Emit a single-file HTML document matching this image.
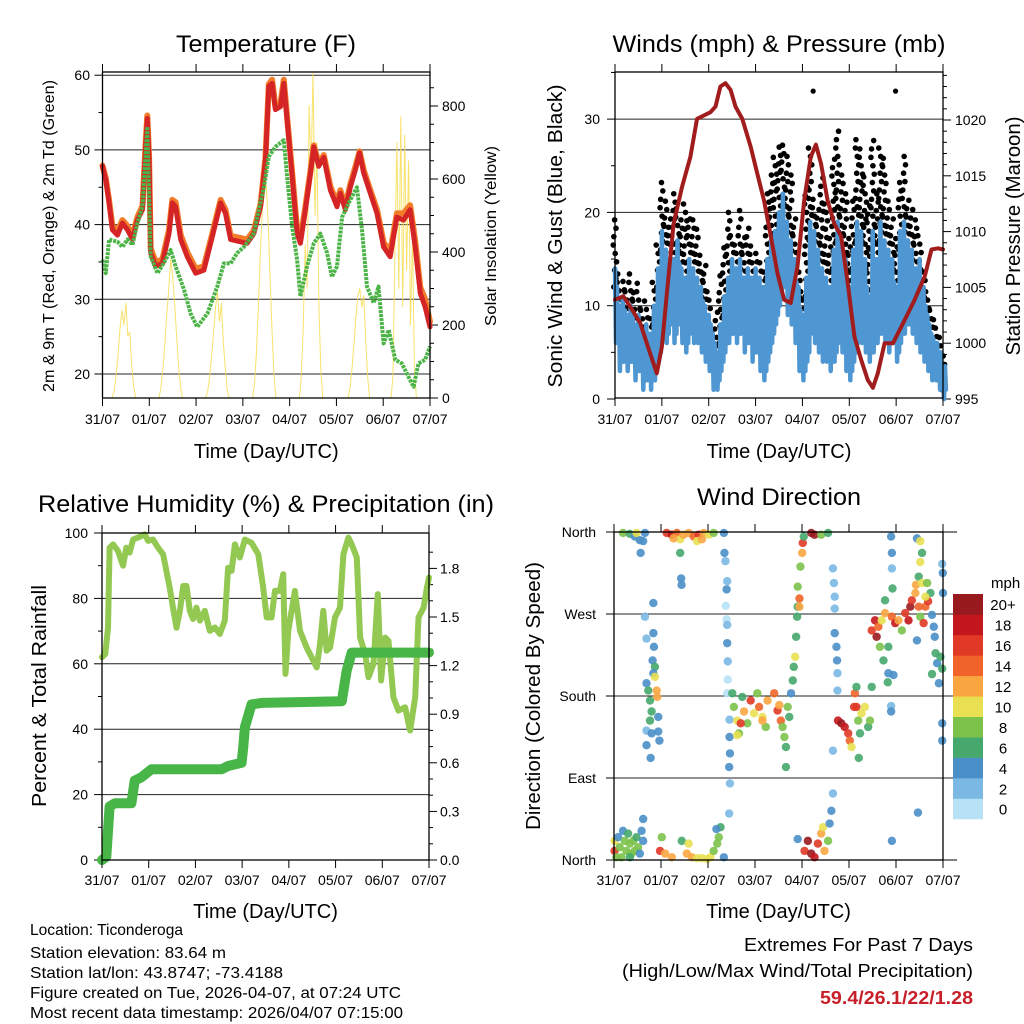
<!DOCTYPE html>
<html><head><meta charset="utf-8"><style>
html,body{margin:0;padding:0;background:#fff}
svg{display:block;font-family:"Liberation Sans Narrow","Liberation Sans",sans-serif}
</style></head><body>
<svg id="s" width="1024" height="1024" viewBox="0 0 1024 1024" xmlns="http://www.w3.org/2000/svg">
<rect width="1024" height="1024" fill="#fff"/>
<g id="g1"></g>
<g id="g2"></g>
<g id="g3"></g>
<g id="g4"></g>
<g font-size="16" fill="#000">
<text x="30" y="935" textLength="153" lengthAdjust="spacingAndGlyphs">Location: Ticonderoga</text>
<text x="30" y="958" textLength="196" lengthAdjust="spacingAndGlyphs">Station elevation: 83.64 m</text>
<text x="30" y="978" textLength="253" lengthAdjust="spacingAndGlyphs">Station lat/lon: 43.8747; -73.4188</text>
<text x="30" y="998" textLength="371" lengthAdjust="spacingAndGlyphs">Figure created on Tue, 2026-04-07, at 07:24 UTC</text>
<text x="30" y="1018" textLength="373" lengthAdjust="spacingAndGlyphs">Most recent data timestamp: 2026/04/07 07:15:00</text>
</g>
<g font-size="18" text-anchor="end">
<text x="973" y="951" textLength="229" lengthAdjust="spacingAndGlyphs">Extremes For Past 7 Days</text>
<text x="973" y="977" textLength="351" lengthAdjust="spacingAndGlyphs">(High/Low/Max Wind/Total Precipitation)</text>
<text x="973" y="1004" fill="#c8202a" font-weight="bold" textLength="153" lengthAdjust="spacingAndGlyphs">59.4/26.1/22/1.28</text>
</g>
</svg>
<script>
// ---------- data (hours since 31/07 00 UTC) ----------
const dayLabels=["31/07","01/07","02/07","03/07","04/07","05/07","06/07","07/07"];
const tempT=[0,1.7,3.4,5.1,7.7,10.2,12.8,15.4,17.9,20.5,22.2,23,23.9,24.7,27.3,30.7,34.1,35.8,37.5,40.1,43.5,47.8,52,56.3,60.6,63.1,65.7,70.8,74.2,77.6,81.1,83.6,85.3,87,88.7,91.3,93,94.7,97.3,99.8,101.5,104.1,106.7,108.4,110.9,113.5,116.9,120.3,122,124.6,127.1,129.7,131.9,134,137.4,140.8,144.2,147.6,151,154.4,157.8,160.4,163,165.5,168];
const tempRed=[47.8,46,42.9,39.3,38.6,40.2,39.3,38,40.6,42,50.9,54.2,48.7,36.2,34.4,34.8,38.8,42.9,42.4,38,35.7,33.5,33.9,38.4,42.9,41.5,38,37.7,37.5,38.8,42.4,48.7,58.5,58.9,55.4,55.8,58.9,54,46.4,38.8,37.5,42,46.9,50.4,47.8,49,44.6,42.4,44.2,42,45,47.3,49.6,46.9,44.2,41.5,37,35.7,41,40.6,42,37,30.8,29,26.3];
const tempOrange=[47.9,46.2,43.2,39.8,39.2,40.6,39.8,38.5,41,42.5,51.3,54.6,49,36.8,35,35.3,39.3,43.3,43,38.6,36.3,34.1,34.4,38.8,43.3,42,38.5,38.2,38,39.2,42.8,49,58.8,59.4,55.8,56.2,59.4,54.4,46.9,39.3,38,42.4,47.2,50.6,48.2,49.3,45.1,42.9,44.6,42.5,45.4,47.7,49.8,47.3,44.6,42,37.6,36.3,41.5,41.5,42.6,37.8,31.6,30,27];
const dewT=[0,1.7,3.4,7.7,10.2,12.8,15.4,17.9,20.5,23,24.7,28.2,32.4,35,37.5,41.8,45.2,48.6,53.8,58.9,62.3,65.7,69.1,72.5,77.6,82.8,85.3,88.7,93,94.7,97.3,99.8,101.5,104.9,108.4,111.8,115.2,117.7,120.3,122.9,126.3,130.5,133.1,135.7,139.1,141.6,144.2,146.8,150.2,153.6,157,159.6,162.1,165.5,168];
const dewG=[35.3,33.5,38,37.7,37,38,37.3,40.2,42.4,53.1,35.7,33.5,35.3,36.6,34.4,31.3,28.1,26.3,28.1,31.7,34.8,34.8,36.2,37,38.8,45,49.1,50.4,51.3,46.4,39.7,35.3,30.4,34.4,37.5,38.8,36.2,33,34.4,41,42.9,45,39.3,31.7,29.5,31.7,24.1,25.9,21.9,21.4,19.6,18.3,21.4,21.9,23.7];
const solarDays=[0,1,2,3,4,5,6];
const solarHours=[[5,6,7,8,9,10,11,12,13,14,15,16,17],[5,6,7,8,9,10,11,12,13,14,15,16,17],[5,6,7,8,9,10,11,12,13,14,15,16,17],[5,6,7,8,9,10,11,12,13,14,15,16,17],[5,6,7,8,9,10,11,12,13,14,15,16,17],[6,7,8,9,10,11,12,13,14,15,16,17],[4,5,6,7,8,9,10,11,12,13,14,15,16,17]];
const solarVals=[[0,20,60,120,190,240,200,260,170,180,90,30,0],[0,30,80,150,230,300,380,330,260,170,90,30,0],[0,20,60,120,180,250,290,210,260,150,80,20,0],[0,40,130,260,400,520,600,580,480,330,180,60,0],[0,60,200,420,300,800,620,890,500,700,250,80,0],[0,30,80,150,220,280,300,250,280,160,60,0],[0,60,400,700,300,770,250,720,350,650,200,450,80,0]];

const windT=[0,2,4,6,8,10,12,14,16,18,20,22,24,26,28,30,32,34,36,38,40,42,44,46,48,50,52,54,56,58,60,62,64,66,68,70,72,74,76,78,80,82,84,86,88,90,92,94,96,98,100,102,104,106,108,110,112,114,116,118,120,122,124,126,128,130,132,134,136,138,140,142,144,146,148,150,152,154,156,158,160,162,164,166,168];
const windHi=[14,10,11,9,10,8,9,7,8,7,10,14,18,16,15,15,17,14,13,15,14,13,12,10,9,7,5,8,11,13,15,14,15,13,14,13,14,13,12,15,17,18,20,22,19,17,15,12,9,13,19,18,16,14,13,12,16,19,17,15,12,16,19,18,15,11,18,15,19,17,16,15,12,18,19,17,16,14,15,12,9,7,6,5,3];
const windLo=[6,3,4,3,4,2,3,1,2,1,2,4,7,6,8,6,8,6,5,7,6,6,5,4,3,1,1,3,5,6,7,6,7,5,6,4,5,3,2,4,6,8,10,12,9,8,6,3,2,4,7,6,5,4,4,3,4,6,5,3,2,4,6,6,5,4,5,6,7,6,5,6,4,6,7,8,7,6,5,4,3,2,2,1,0];
const gustMax=[20,14,13,12,14,12,13,10,11,9,13,17,24,22,20,22,21,20,21,20,20,19,16,15,12,7,10,14,17,20,18,17,21,18,19,17,16,15,14,22,24,26,27,28,26,24,20,14,12,23,27,22,21,24,21,18,26,29,24,22,18,22,28,27,24,21,28,22,27,26,22,20,18,24,26,22,21,20,18,14,12,10,9,7,5];
const gustOutT=[101.5,143.7];
const gustOutV=[33,33];
const presT=[0,4.3,7.7,12.9,18,21.4,24,26.6,30,34.3,38.6,42,45.5,48.9,51.5,54,56.6,59.2,61.7,65.2,69.5,72.9,76.3,79.8,83.2,86.6,90,93.5,96.9,100.3,102.9,105.5,108.9,112.3,115.8,119.2,122.6,126.1,129.5,132.1,134.6,138.1,142.4,146.7,150.1,153.5,158.7,162.1,165.5,168];
const presV=[1003.9,1004.2,1003.3,1001.8,999.1,997.3,999.7,1004.5,1010.7,1014,1016.7,1020.1,1020.4,1020.7,1021.2,1023,1023.3,1022.7,1021.2,1020.1,1017.6,1015.2,1012.8,1009.6,1006.3,1003.9,1003.6,1006.9,1012.8,1016.7,1017.8,1016.1,1012.8,1010.7,1009.6,1005.4,1000.6,998.5,996.7,996,997.3,1000,1000,1001.5,1002.7,1003.9,1006,1008.4,1008.5,1008.4];

const rhT=[0,1.7,3.1,3.9,5.7,8.2,10.8,12.5,14.2,16,18.5,22,23.7,26.2,28.8,31.4,33.1,34.8,36.5,38.3,40,41.7,43.4,45.1,46.8,48.5,50.3,52.8,55.4,58,60.5,63.1,64.8,66.6,68.3,70.8,73.4,76.8,80.3,82.8,84.6,87.1,88.9,91.4,93.1,94.3,95.7,99.1,101.7,105.1,107.7,110.3,112,113.7,115.4,117.2,119.7,122.3,124,126.6,128.3,130.9,132.6,135.2,136.9,139.5,141.7,143.4,145.5,147.2,149.7,152.3,155.7,158.3,160.9,162.6,165.2,166.9,168];
const rhV=[62,63,71,95.5,96.5,94.5,90,95.5,94,98,98.6,99.6,97.6,98,95.5,93.5,88.4,83.3,77.2,71,76.2,83.8,83.8,76.2,73.7,77.2,73.2,76.2,70.1,71.1,69.1,73.2,89.4,88.4,96.5,92.5,98,97,93.5,83.3,74.2,74.2,82.3,82.3,87.4,56.9,70.1,82.3,70.1,65,62,58.9,66,76.2,64,65,74.2,77.2,93.5,98.6,96.5,92.5,68,63,55.9,60,81.3,54.9,68,67,49.8,45.7,46.7,39.6,49.8,74.2,77.2,83.3,86.4];
const rainT=[0,2.2,3.9,6.5,15.1,16.8,20.2,25.4,61.4,64.8,71.7,72.6,73.4,76.8,82,123.2,125.7,128.3,168];
const rainV=[0,0.02,0.33,0.35,0.35,0.49,0.51,0.56,0.56,0.58,0.6,0.7,0.82,0.96,0.97,0.98,1.17,1.28,1.28];

// wind direction observations: [hour, degrees, mph]
const dirObs=[
[4.6,359,8],[8.1,358,6],[10.6,355,4],[13.2,351,4],[14.9,350,4],[13.6,337,4],[15.8,359,4],[11.5,359,10],[20.1,282,4],
[0.3,10,16],[0.3,21,10],[2.1,25,4],[2.9,14,8],[4.6,32,4],[5.5,21,8],[6.3,10,8],[7.2,29,6],[8.1,18,8],[8.9,7,8],[9.8,21,8],[10.6,10,8],[11.5,25,6],[12.3,14,8],[13.2,7,4],[14.1,32,4],[14.9,45,4],[14.9,21,4],[1.2,3,8],[3.8,3,8],[8.1,3,6],
[15.8,267,2],[16.6,243,2],[20.1,249,4],[20.4,234,4],[19.7,219,4],[20.9,212,6],[20.1,205,4],[20.9,201,10],[16.6,194,4],[17.5,186,6],[21.8,186,12],[22.1,179,12],[18.4,175,6],[19.2,163,6],[18.4,153,6],[22.6,157,4],[22.6,141,4],[16.6,142,2],[19.2,139,4],[16.6,126,4],[18.7,112,4],[23.2,131,4],
[26.9,359,16],[29.5,357,18],[32.1,359,14],[33.8,352,10],[35.5,357,12],[38.1,359,12],[40.7,355,14],[43.2,357,16],[45.8,359,12],[48.4,357,10],[50.9,359,8],[30.4,353,12],[42.4,350,10],[44.9,352,12],[33.8,337,6],[34.3,309,4],[34.5,302,4],
[23.5,10,16],[24.4,25,8],[26.1,7,12],[29.5,3,12],[34.6,21,6],[38.1,18,10],[37.2,7,12],[39.8,3,12],[42.4,2,10],[44.9,2,10],[47.5,1,10],[49.2,3,10],[50.9,10,8],[52.7,18,8],[53.5,25,8],[54.4,36,6],[52.3,34,4],[56.1,3,4],
[56.1,359,4],[56.4,337,4],[56.9,328,2],[57.8,306,2],[57.5,297,4],[57.1,279,1],[57.5,264,1],[57.8,258,2],[57.8,238,4],[58.1,218,2],[58.1,198,1],[57.8,183,1],[59,154,2],[59,135,4],[59.2,117,4],[58.8,102,4],[59.2,84,2],[58.8,51,2],
[60.4,183,6],[61.2,168,8],[62.9,153,10],[63.8,139,8],[65.5,179,6],[66.4,163,12],[68.1,150,8],[69.8,175,16],[71.5,161,10],[73.2,183,8],[74.1,168,14],[75.8,157,10],[77.5,146,8],[78.4,175,12],[81.8,183,14],[83.5,164,16],[84.4,170,12],[85.2,153,14],[86.1,146,8],[87,135,8],[87.8,124,6],[88.7,168,8],[89.5,157,6],[87.8,102,6],[64.7,150,16],[75.8,153,12],[62.9,137,10],
[90.4,183,4],[91.3,197,6],[91.8,212,6],[92.5,223,10],[93,245,6],[93.5,267,6],[93.8,278,6],[94.7,287,14],[94.7,278,12],[93.8,300,8],[95.2,322,8],[96.1,337,12],[96.4,348,16],[96.9,355,6],[100.7,359,20],[102.4,357,20],[105.8,357,8],[109.3,359,6],
[93.8,23,4],[97.3,10,16],[99,21,20],[100.7,7,20],[102.4,3,18],[104.1,18,16],[105.8,29,12],[106.7,36,10],[107.5,10,12],[109.3,21,8],[110.1,40,4],[111,54,4],[111.8,73,2],
[111.8,320,2],[112.3,304,2],[112.7,289,2],[112.7,276,2],[112.7,249,4],[113.6,234,4],[113.9,219,4],[114.1,205,2],[114.1,186,2],[111.8,120,2],
[114.4,153,18],[116.1,150,20],[117.8,146,18],[119.6,139,16],[120.4,131,14],[121.3,124,10],[123.8,168,16],[123,183,14],[124.7,153,8],[125.6,139,6],[126.4,161,10],[128.1,168,10],[129.8,146,6],[130.7,153,8],[131.6,190,6],[123.8,190,6],[125,112,6],[122.6,168,16],
[131.6,252,16],[133.3,263,18],[134.1,245,20],[135,256,14],[135.8,234,8],[136.7,263,10],[137.6,219,6],[138.4,271,12],[140.1,205,4],[141.9,267,14],[143.6,260,18],[145.3,263,12],[147,252,8],[148.7,271,16],[150.4,263,18],[151.3,278,20],[152.1,285,16],[153.9,293,12],[155.6,278,14],[156.4,267,8],[158.1,260,16],[159,278,14],[140.1,234,6],[142.7,203,4],[139.8,195,6],[138.4,285,6],
[141.5,355,4],[141.9,337,4],[141.9,320,2],[142.2,298,6],[141.5,169,2],[141.5,163,4],[141.9,21,4],[155.2,52,4],
[154.7,353,4],[156.4,350,10],[157.3,337,6],[156.4,327,10],[155.6,311,6],[154.2,302,12],[157.3,304,10],[159.9,304,8],[161.6,293,6],[160.4,284,16],[159,289,10],[162.4,269,4],[163.8,245,4],[164.2,227,6],[165,216,4],[166.7,223,6],[167.6,210,6],[165.9,194,4],[163.3,256,4],[167.6,325,2],[167.9,315,4],[168,293,4],[167.6,150,4],[167.6,131,4],[162.4,204,6],[154.7,241,4]
];
const speedLabels=["0","2","4","6","8","10","12","14","16","18","20+"];
const speedColors=["#b7e1f6","#7bb8e4","#4a8fc8","#46a86c","#7cc24a","#e8e052","#f9a641","#f06429","#e03926","#c4171d","#981a1e"];

// ---------- helpers ----------
const NS="http://www.w3.org/2000/svg";
function mk(tag,attrs,parent){const e=document.createElementNS(NS,tag);for(const k in attrs)e.setAttribute(k,attrs[k]);parent.appendChild(e);return e;}
function txt(parent,x,y,s,size,anchor,extra){const e=mk('text',Object.assign({x:x,y:y,'font-size':size,'text-anchor':anchor||'middle'},extra||{}),parent);e.textContent=s;return e;}

function panel(g,L,R,T,B){
  return {L,R,T,B,x:t=>L+t/168*(R-L)};
}
function frame(g,p,nm){
  const r=mk('rect',{x:p.L,y:p.T,width:p.R-p.L,height:p.B-p.T,fill:'none',stroke:'#000','stroke-width':1.3},g);
  
  
}
function xAxis(g,p,labY,titleY,nm){
  for(let d=0;d<=7;d++){
    const x=p.x(d*24);
    mk('line',{x1:x,y1:p.B,x2:x,y2:p.B+8,stroke:'#000','stroke-width':1},g);
    mk('line',{x1:x,y1:p.T,x2:x,y2:p.T-8,stroke:'#000','stroke-width':1},g);
    const t=txt(g,x,labY,dayLabels[d],14,'middle');
    
    
  }
  const tt=txt(g,(p.L+p.R)/2,titleY,'Time (Day/UTC)',20,'middle');
  
  
}
function poly(g,pts,attrs){return mk('polyline',Object.assign({points:pts.map(p=>p[0].toFixed(1)+','+p[1].toFixed(1)).join(' '),fill:'none','stroke-linejoin':'round','stroke-linecap':'round'},attrs),g);}

// ---------- Panel 1: Temperature ----------
(function(){
  const g=document.getElementById('g1');
  const p=panel(g,102.5,430,72,398);
  const yT=v=>374-(v-20)*7.47;
  const yS=v=>398-v*0.365;
  const t=txt(g,266,52,'Temperature (F)',24,'middle',{textLength:180,lengthAdjust:'spacingAndGlyphs'});
  
  
  for(let v=20;v<=60;v+=10){
    const l=mk('line',{x1:p.L,y1:yT(v),x2:p.R,y2:yT(v),stroke:'#222','stroke-width':1},g);
    
    
    const lb=txt(g,90,yT(v)+5,String(v),14,'end');
    
    
  }
  for(let v=20;v<=60;v+=5) mk('line',{x1:p.L,y1:yT(v),x2:p.L-(v%10?4:8),y2:yT(v),stroke:'#000'},g);
  for(let v=0;v<=850;v+=50) mk('line',{x1:p.R,y1:yS(v),x2:p.R+(v%200?4:8),y2:yS(v),stroke:'#000'},g);
  for(let v=0;v<=800;v+=200){
    const lb=txt(g,442,yS(v)+5,String(v),14,'start');
    
    
  }
  solarDays.forEach((d,i)=>{
    const pts=solarHours[i].map((h,j)=>[p.x(d*24+h),yS(solarVals[i][j])]);
    const e=poly(g,pts,{stroke:'#f7dd52','stroke-width':1,opacity:0.85});
    
    
  });
  const o=poly(g,tempT.map((tt,i)=>[p.x(tt),yT(tempOrange[i])]),{stroke:'#f37c2a','stroke-width':6});
  
  
  const r=poly(g,tempT.map((tt,i)=>[p.x(tt),yT(tempRed[i])]),{stroke:'#d42426','stroke-width':5});
  
  
  const gr=poly(g,dewT.map((tt,i)=>[p.x(tt),yT(dewG[i])]),{stroke:'#4cb447','stroke-width':4,'stroke-dasharray':'3 1','stroke-linecap':'butt'});
  
  
  mk('line',{x1:p.L,y1:p.T,x2:p.R,y2:p.T,stroke:'#000'},g);
  frame(g,p,'temperature');
  xAxis(g,p,424,458,'temperature');
  const yl=txt(g,0,0,'2m & 9m T (Red, Orange) & 2m Td (Green)',16,'middle',{transform:'translate(54,236) rotate(-90)',textLength:312,lengthAdjust:'spacingAndGlyphs'});
  
  
  const yr=txt(g,0,0,'Solar Insolation (Yellow)',16,'middle',{transform:'translate(496,236) rotate(-90)',textLength:180,lengthAdjust:'spacingAndGlyphs'});
  
  
})();

// ---------- Panel 2: Winds ----------
(function(){
  const g=document.getElementById('g2');
  const p=panel(g,615,943,72,398);
  const yW=v=>399-v*9.33;
  const yP=v=>399-(v-995)*11.16;
  const t=txt(g,779,52,'Winds (mph) & Pressure (mb)',24,'middle',{textLength:333,lengthAdjust:'spacingAndGlyphs'});
  
  
  for(let v=0;v<=30;v+=10){
    if(v>0){const l=mk('line',{x1:p.L,y1:yW(v),x2:p.R,y2:yW(v),stroke:'#222'},g);
    
    }
    const lb=txt(g,600,yW(v)+5,String(v),14,'end');
    
    
  }
  for(let v=0;v<=35;v+=5) mk('line',{x1:p.L,y1:yW(v),x2:p.L-(v%10?4:8),y2:yW(v),stroke:'#000'},g);
  for(let v=995;v<=1024;v+=1) mk('line',{x1:p.R,y1:yP(v),x2:p.R+(v%5?4:8),y2:yP(v),stroke:'#000'},g);
  for(let v=995;v<=1020;v+=5){
    const lb=txt(g,955,yP(v)+5,String(v),14,'start');
    
    
  }
  const offs=[-0.6,0.5,-0.2,0.8,0.1,-0.9];
  windT.forEach((tt,i)=>{
    let k=0;
    for(let v=windHi[i]-2;v<=gustMax[i];v+=0.9){
      const c=mk('circle',{cx:p.x(tt+offs[k%6]),cy:yW(v),r:2.8,fill:'#000'},g);
      
      
      k++;
    }
  });
  gustOutT.forEach((tt,i)=>{
    const c=mk('circle',{cx:p.x(tt),cy:yW(gustOutV[i]),r:2.6,fill:'#000'},g);
    
    
  });
  const pts=[];
  windT.forEach((tt,i)=>{pts.push([p.x(tt),yW(windHi[i])]);pts.push([p.x(tt+0.5),yW(windLo[i])]);pts.push([p.x(tt+1),yW((windHi[i]+windLo[i])/2+2)]);pts.push([p.x(tt+1.5),yW(windLo[i]+1)]);});
  const w=poly(g,pts,{stroke:'#4f97d2','stroke-width':4.5});
  
  
  const pr=poly(g,presT.map((tt,i)=>[p.x(tt),yP(presV[i])]),{stroke:'#a11d1d','stroke-width':4});
  
  
  frame(g,p,'winds');
  xAxis(g,p,424,458,'winds');
  const yl=txt(g,0,0,'Sonic Wind & Gust (Blue, Black)',20,'middle',{transform:'translate(562,236) rotate(-90)',textLength:303,lengthAdjust:'spacingAndGlyphs'});
  
  
  const yr=txt(g,0,0,'Station Pressure (Maroon)',20,'middle',{transform:'translate(1020,236) rotate(-90)',textLength:239,lengthAdjust:'spacingAndGlyphs'});
  
  
})();

// ---------- Panel 3: RH & Precip ----------
(function(){
  const g=document.getElementById('g3');
  const p=panel(g,102,429,533,860);
  const yH=v=>860-v*3.27;
  const yR=v=>860-v*162;
  const t=txt(g,266,512,'Relative Humidity (%) & Precipitation (in)',24,'middle',{textLength:456,lengthAdjust:'spacingAndGlyphs'});
  
  
  for(let v=0;v<=100;v+=20){
    if(v>0&&v<100){const l=mk('line',{x1:p.L,y1:yH(v),x2:p.R,y2:yH(v),stroke:'#222'},g);
    
    }
    const lb=txt(g,88,yH(v)+5,String(v),14,'end');
    
    
  }
  for(let v=0;v<=100;v+=10) mk('line',{x1:p.L,y1:yH(v),x2:p.L-(v%20?4:8),y2:yH(v),stroke:'#000'},g);
  for(let v=0;v<=2.0;v+=0.1) mk('line',{x1:p.R,y1:yR(v),x2:p.R+(Math.round(v*10)%3?4:8),y2:yR(v),stroke:'#000'},g);
  ["0.0","0.3","0.6","0.9","1.2","1.5","1.8"].forEach((s,i)=>{
    const lb=txt(g,440,yR(i*0.3)+5,s,14,'start');
    
    
  });
  const rh=poly(g,rhT.map((tt,i)=>[p.x(tt),yH(rhV[i])]),{stroke:'#93c952','stroke-width':6});
  
  
  const rn=poly(g,rainT.map((tt,i)=>[p.x(tt),yR(rainV[i])]),{stroke:'#48b548','stroke-width':10});
  
  
  frame(g,p,'humidity');
  xAxis(g,p,885,918,'humidity');
  const yl=txt(g,0,0,'Percent & Total Rainfall',20,'middle',{transform:'translate(46,696) rotate(-90)',textLength:222,lengthAdjust:'spacingAndGlyphs'});
  
  
})();

// ---------- Panel 4: Wind direction ----------
(function(){
  const g=document.getElementById('g4');
  const p=panel(g,614,943,532,860);
  const yD=v=>860-v/360*328;
  const t=txt(g,779,505,'Wind Direction',24,'middle',{textLength:164,lengthAdjust:'spacingAndGlyphs'});
  
  
  const dl=["North","East","South","West","North"];
  dl.forEach((s,i)=>{
    const v=i*90;
    if(i>0&&i<4){const l=mk('line',{x1:p.L,y1:yD(v),x2:p.R+14,y2:yD(v),stroke:'#222'},g);
    
    }
    mk('line',{x1:p.L,y1:yD(v),x2:p.L-8,y2:yD(v),stroke:'#000'},g);
    const lb=txt(g,596,yD(v)+5,s,14,'end');
    
    
  });
  mk('line',{x1:p.R,y1:p.T,x2:p.R+14,y2:p.T,stroke:'#000'},g);
  mk('line',{x1:p.R,y1:p.B,x2:p.R+14,y2:p.B,stroke:'#000'},g);
  dirObs.forEach(o=>{
    const ci=Math.min(10,Math.floor(o[2]/2));
    const c=mk('circle',{cx:p.x(o[0]),cy:yD(o[1]),r:4.2,fill:speedColors[ci],opacity:0.9},g);
    
    
  });
  frame(g,p,'wind-direction');
  xAxis(g,p,885,918,'wind-direction');
  const yl=txt(g,0,0,'Direction (Colored By Speed)',20,'middle',{transform:'translate(540,696) rotate(-90)',textLength:268,lengthAdjust:'spacingAndGlyphs'});
  
  
  const cb=mk('g',{},g);
  
  
  const u=txt(cb,991,588,'mph',15,'start');
  
  
  const h=20.45;
  for(let i=0;i<11;i++){
    const yy=594+(10-i)*h;
    const r=mk('rect',{x:953,y:yy,width:30,height:h+0.3,fill:speedColors[i]},cb);
    
    
    const l=txt(cb,1003,yy+h/2+6,speedLabels[i],15,'middle');
    
    
  }
})();
</script>
</body></html>
